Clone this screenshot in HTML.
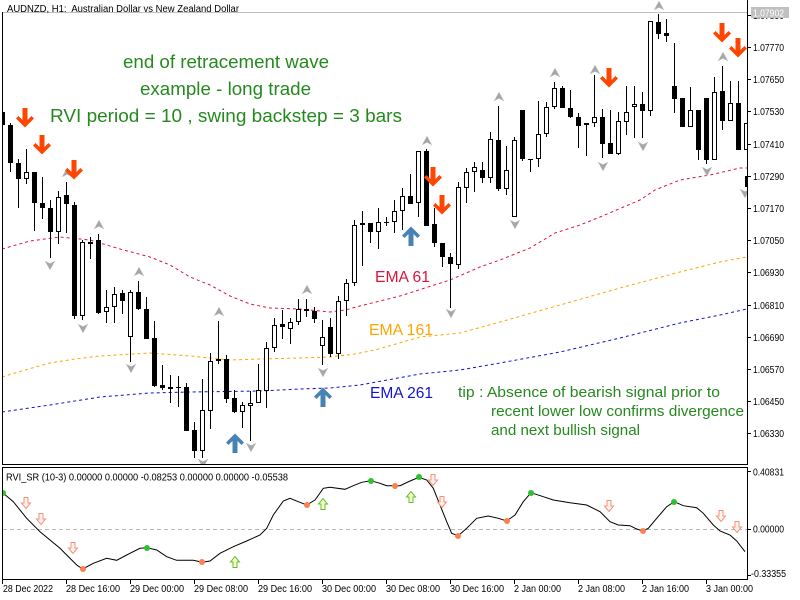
<!DOCTYPE html>
<html><head><meta charset="utf-8"><style>
html,body{margin:0;padding:0;background:#fff;}
svg{display:block;font-family:"Liberation Sans",Arial,sans-serif;}
</style></head><body>
<svg width="800" height="600" viewBox="0 0 800 600" xmlns="http://www.w3.org/2000/svg">
<rect width="800" height="600" fill="#fff"/>
<defs><clipPath id="cm"><rect x="3" y="0" width="744" height="464"/></clipPath>
<clipPath id="ci"><rect x="3" y="468" width="744" height="111"/></clipPath></defs>

<!-- top gray line -->
<line x1="2" y1="12.5" x2="747" y2="12.5" stroke="#c0c0c0" stroke-width="1"/>
<text x="7" y="12" font-size="10" textLength="232" lengthAdjust="spacingAndGlyphs" fill="#000">AUDNZD, H1:&#160; Australian Dollar vs New Zealand Dollar</text>

<g clip-path="url(#cm)">
<!-- EMAs -->
<polyline fill="none" stroke="#DC143C" stroke-width="1" stroke-dasharray="3,3" points="2,249 30,241 60,237 90,240 120,249 150,257 170,265 190,277 210,285 230,296 250,304 270,308 300,309 330,312 345,310 360,306 400,296 450,280 480,267 500,260 530,248 555,233 580,225 600,217 640,200 655,190 680,180 710,175 740,168 747,168"/>
<polyline fill="none" stroke="#FFA500" stroke-width="1" stroke-dasharray="3,3" points="2,377 25,370 50,363 75,359 100,356 150,353 190,356 230,360 260,359 300,358 330,357 355,354 375,350 420,337 460,333 500,322 560,305 620,288 680,272 720,262 747,257"/>
<polyline fill="none" stroke="#1010D0" stroke-width="1" stroke-dasharray="3,3" points="2,412 50,405 100,397 150,393 190,392 260,391 300,389 330,388 360,385 420,374 460,370 500,363 560,352 620,338 680,323 720,315 747,309"/>

<!-- wicks -->
<path fill="none" stroke="#000" stroke-width="1" d="M2.5 110V127M10.5 123V172M18.5 159V208M26.5 149V184M34.5 172V231M42.5 177V219M50.5 200V258M58.5 191V244M66.5 182V233M74.5 202V319M82.5 240V320M90.5 237V259M98.5 234V314M106.5 290V323M114.5 287V323M122.5 290V314M130.5 290V362M138.5 281V310M146.5 297V339M154.5 321V387M162.5 365V390M170.5 375V403M178.5 376V407M186.5 383V431M194.5 422V458M202.5 379V458M210.5 353V429M218.5 321V364M226.5 355V403M234.5 390V413M242.5 402V428M250.5 391V441M258.5 364V403M266.5 342V408M274.5 318V352M282.5 310V339M290.5 318V344M298.5 299V325M306.5 299V317M314.5 307V323M322.5 320V365M330.5 318V357M338.5 296V359M346.5 279V316M354.5 220V286M362.5 211V266M370.5 223V243M378.5 208V249M386.5 217V226M394.5 200V233M402.5 188V230M410.5 174V204M418.5 151V217M426.5 149V226M434.5 208V247M442.5 243V267M450.5 253V308M458.5 182V269M466.5 168V203M474.5 162V192M482.5 162V183M490.5 132V183M498.5 106V191M506.5 146V195M514.5 137V217M522.5 110V161M530.5 159V172M538.5 101V167M546.5 102V137M554.5 82V109M562.5 86V108M570.5 90V118M578.5 113V148M586.5 123V156M594.5 75V127M602.5 109V158M610.5 110V154M618.5 112V155M626.5 86V135M634.5 86V138M642.5 92V138M650.5 21V116M658.5 14V39M666.5 19V42M674.5 43V113M682.5 98V127M690.5 87V127M698.5 110V160M706.5 98V164M714.5 77V160M722.5 66V130M730.5 81V121M738.5 81V150M746.5 123V150"/>

<!-- black bodies -->
<path fill="#000" d="M0 112h5V125h-5ZM8 125h5V163h-5ZM16 163h5V179h-5ZM32 172h5V203h-5ZM40 203h5V208h-5ZM48 208h5V232h-5ZM64 195h5V204h-5ZM72 205h5V316h-5ZM88 242h5V244h-5ZM96 240h5V313h-5ZM120 293h5V301h-5ZM136 292h5V309h-5ZM144 309h5V339h-5ZM152 338h5V386h-5ZM160 385h5V388h-5ZM168 387h5V389h-5ZM176 387h5V388h-5ZM184 387h5V431h-5ZM192 430h5V451h-5ZM216 359h5V361h-5ZM224 359h5V399h-5ZM232 398h5V412h-5ZM280 324h5V327h-5ZM312 311h5V319h-5ZM328 327h5V354h-5ZM368 223h5V232h-5ZM384 222h5V223h-5ZM408 196h5V204h-5ZM424 151h5V226h-5ZM432 224h5V243h-5ZM440 243h5V257h-5ZM448 257h5V264h-5ZM480 170h5V178h-5ZM496 140h5V189h-5ZM520 110h5V159h-5ZM528 159h5V160h-5ZM560 88h5V108h-5ZM568 108h5V117h-5ZM576 117h5V126h-5ZM600 117h5V144h-5ZM608 143h5V154h-5ZM640 104h5V111h-5ZM656 22h5V34h-5ZM664 33h5V36h-5ZM672 86h5V99h-5ZM680 98h5V127h-5ZM696 110h5V150h-5ZM704 98h5V160h-5ZM720 91h5V121h-5ZM736 103h5V150h-5Z"/>

<!-- white bodies -->
<g fill="#fff" stroke="#000" stroke-width="1">
<rect x="24.5" y="172.5" width="4" height="6"/>
<rect x="56.5" y="197.5" width="4" height="34"/>
<rect x="80.5" y="242.5" width="4" height="73"/>
<rect x="104.5" y="307.5" width="4" height="4"/>
<rect x="112.5" y="294.5" width="4" height="12"/>
<rect x="128.5" y="292.5" width="4" height="44"/>
<rect x="200.5" y="410.5" width="4" height="40"/>
<rect x="208.5" y="361.5" width="4" height="49"/>
<rect x="240.5" y="405.5" width="4" height="6"/>
<rect x="248.5" y="403.5" width="4" height="2"/>
<rect x="256.5" y="390.5" width="4" height="12"/>
<rect x="264.5" y="348.5" width="4" height="42"/>
<rect x="272.5" y="325.5" width="4" height="22"/>
<rect x="288.5" y="322.5" width="4" height="6"/>
<rect x="296.5" y="309.5" width="4" height="12"/>
<rect x="304.5" y="309.5" width="4" height="1"/>
<rect x="320.5" y="337.5" width="4" height="8"/>
<rect x="336.5" y="301.5" width="4" height="52"/>
<rect x="344.5" y="283.5" width="4" height="17"/>
<rect x="352.5" y="225.5" width="4" height="57"/>
<rect x="360.5" y="223.5" width="4" height="1"/>
<rect x="376.5" y="222.5" width="4" height="9"/>
<rect x="392.5" y="211.5" width="4" height="10"/>
<rect x="400.5" y="196.5" width="4" height="14"/>
<rect x="416.5" y="151.5" width="4" height="51"/>
<rect x="456.5" y="187.5" width="4" height="77"/>
<rect x="464.5" y="172.5" width="4" height="15"/>
<rect x="472.5" y="167.5" width="4" height="4"/>
<rect x="488.5" y="139.5" width="4" height="38"/>
<rect x="504.5" y="170.5" width="4" height="18"/>
<rect x="512.5" y="140.5" width="4" height="76"/>
<rect x="536.5" y="134.5" width="4" height="24"/>
<rect x="544.5" y="107.5" width="4" height="26"/>
<rect x="552.5" y="88.5" width="4" height="18"/>
<rect x="584.5" y="123.5" width="4" height="1"/>
<rect x="592.5" y="117.5" width="4" height="5"/>
<rect x="616.5" y="121.5" width="4" height="32"/>
<rect x="624.5" y="112.5" width="4" height="9"/>
<rect x="632.5" y="104.5" width="4" height="2"/>
<rect x="648.5" y="21.5" width="4" height="89"/>
<rect x="688.5" y="110.5" width="4" height="16"/>
<rect x="712.5" y="92.5" width="4" height="67"/>
<rect x="728.5" y="103.5" width="4" height="17"/>
<rect x="744.5" y="123.5" width="4" height="26"/>
</g>
<rect x="745" y="176" width="2" height="11" fill="#000"/>

<!-- gray fractal arrows up -->
<g fill="#a6a6a6" stroke="#d0d0d0" stroke-width="0.5">
<polygon transform="translate(67,173)" points="0,-5 5,4 0,1.5 -5,4"/>
<polygon transform="translate(99,225)" points="0,-5 5,4 0,1.5 -5,4"/>
<polygon transform="translate(139,272)" points="0,-5 5,4 0,1.5 -5,4"/>
<polygon transform="translate(219,312)" points="0,-5 5,4 0,1.5 -5,4"/>
<polygon transform="translate(307,290)" points="0,-5 5,4 0,1.5 -5,4"/>
<polygon transform="translate(427,141)" points="0,-5 5,4 0,1.5 -5,4"/>
<polygon transform="translate(499,97)" points="0,-5 5,4 0,1.5 -5,4"/>
<polygon transform="translate(555,73)" points="0,-5 5,4 0,1.5 -5,4"/>
<polygon transform="translate(595,70)" points="0,-5 5,4 0,1.5 -5,4"/>
<polygon transform="translate(659,6)" points="0,-5 5,4 0,1.5 -5,4"/>
<polygon transform="translate(723,57)" points="0,-5 5,4 0,1.5 -5,4"/>
<!-- down -->
<polygon transform="translate(50,265)" points="0,5 5,-4 0,-1.5 -5,-4"/>
<polygon transform="translate(83,328)" points="0,5 5,-4 0,-1.5 -5,-4"/>
<polygon transform="translate(131,368)" points="0,5 5,-4 0,-1.5 -5,-4"/>
<polygon transform="translate(203,463)" points="0,5 5,-4 0,-1.5 -5,-4"/>
<polygon transform="translate(251,447)" points="0,5 5,-4 0,-1.5 -5,-4"/>
<polygon transform="translate(323,372)" points="0,5 5,-4 0,-1.5 -5,-4"/>
<polygon transform="translate(451,313)" points="0,5 5,-4 0,-1.5 -5,-4"/>
<polygon transform="translate(515,224)" points="0,5 5,-4 0,-1.5 -5,-4"/>
<polygon transform="translate(603,166)" points="0,5 5,-4 0,-1.5 -5,-4"/>
<polygon transform="translate(643,146)" points="0,5 5,-4 0,-1.5 -5,-4"/>
<polygon transform="translate(707,171)" points="0,5 5,-4 0,-1.5 -5,-4"/>
<polygon transform="translate(745,193)" points="0,5 5,-4 0,-1.5 -5,-4"/>
</g>

<!-- red down arrows -->
<g fill="#FF4500">
<polygon transform="translate(25,118)" points="-2.5,-10 2.5,-10 2.5,2 6.5,-2 9,0.5 0,9.5 -9,0.5 -6.5,-2 -2.5,2"/>
<polygon transform="translate(42,145)" points="-2.5,-10 2.5,-10 2.5,2 6.5,-2 9,0.5 0,9.5 -9,0.5 -6.5,-2 -2.5,2"/>
<polygon transform="translate(74,170)" points="-2.5,-10 2.5,-10 2.5,2 6.5,-2 9,0.5 0,9.5 -9,0.5 -6.5,-2 -2.5,2"/>
<polygon transform="translate(433,177)" points="-2.5,-10 2.5,-10 2.5,2 6.5,-2 9,0.5 0,9.5 -9,0.5 -6.5,-2 -2.5,2"/>
<polygon transform="translate(442,205)" points="-2.5,-10 2.5,-10 2.5,2 6.5,-2 9,0.5 0,9.5 -9,0.5 -6.5,-2 -2.5,2"/>
<polygon transform="translate(609,78)" points="-2.5,-10 2.5,-10 2.5,2 6.5,-2 9,0.5 0,9.5 -9,0.5 -6.5,-2 -2.5,2"/>
<polygon transform="translate(722,33)" points="-2.5,-10 2.5,-10 2.5,2 6.5,-2 9,0.5 0,9.5 -9,0.5 -6.5,-2 -2.5,2"/>
<polygon transform="translate(738,48)" points="-2.5,-10 2.5,-10 2.5,2 6.5,-2 9,0.5 0,9.5 -9,0.5 -6.5,-2 -2.5,2"/>
</g>
<!-- blue up arrows -->
<g fill="#4682B4">
<polygon transform="translate(235,443)" points="-2.5,10 2.5,10 2.5,-2 6.5,2 9,-0.5 0,-9.5 -9,-0.5 -6.5,2 -2.5,-2"/>
<polygon transform="translate(323,397)" points="-2.5,10 2.5,10 2.5,-2 6.5,2 9,-0.5 0,-9.5 -9,-0.5 -6.5,2 -2.5,-2"/>
<polygon transform="translate(411,236)" points="-2.5,10 2.5,10 2.5,-2 6.5,2 9,-0.5 0,-9.5 -9,-0.5 -6.5,2 -2.5,-2"/>
</g>
</g>

<!-- annotation texts -->
<g fill="#25891f" font-size="18">
<text x="123" y="68" textLength="206" lengthAdjust="spacingAndGlyphs">end of retracement wave</text>
<text x="140" y="95" textLength="171" lengthAdjust="spacingAndGlyphs">example - long trade</text>
<text x="50" y="122" textLength="352" lengthAdjust="spacingAndGlyphs">RVI period = 10 , swing backstep = 3 bars</text>
</g>
<g font-size="16">
<text x="375" y="282" fill="#DC143C" textLength="55" lengthAdjust="spacingAndGlyphs">EMA 61</text>
<text x="369" y="335" fill="#FFA500" textLength="64" lengthAdjust="spacingAndGlyphs">EMA 161</text>
<text x="370" y="398" fill="#1414CC" textLength="63" lengthAdjust="spacingAndGlyphs">EMA 261</text>
</g>
<g fill="#25891f" font-size="14.5">
<text x="458" y="397" textLength="262" lengthAdjust="spacingAndGlyphs">tip : Absence of bearish signal prior to</text>
<text x="491" y="416" textLength="253" lengthAdjust="spacingAndGlyphs">recent lower low confirms divergence</text>
<text x="491" y="435" textLength="149" lengthAdjust="spacingAndGlyphs">and next bullish signal</text>
</g>

<!-- main borders -->
<line x1="2.5" y1="12" x2="2.5" y2="465" stroke="#000"/>
<line x1="747.5" y1="0" x2="747.5" y2="465" stroke="#000"/>
<line x1="2" y1="464.5" x2="748" y2="464.5" stroke="#000"/>

<!-- price axis -->
<g stroke="#000">
<path d="M747 15.5h4M747 47.5h4M747 79.5h4M747 111.5h4M747 144.5h4M747 176.5h4M747 208.5h4M747 240.5h4M747 272.5h4M747 305.5h4M747 337.5h4M747 369.5h4M747 401.5h4M747 433.5h4"/>
</g>
<g font-size="10" fill="#000">
<text x="753" y="51" textLength="31" lengthAdjust="spacingAndGlyphs">1.07770</text>
<text x="753" y="83" textLength="31" lengthAdjust="spacingAndGlyphs">1.07650</text>
<text x="753" y="115" textLength="31" lengthAdjust="spacingAndGlyphs">1.07530</text>
<text x="753" y="148" textLength="31" lengthAdjust="spacingAndGlyphs">1.07410</text>
<text x="753" y="180" textLength="31" lengthAdjust="spacingAndGlyphs">1.07290</text>
<text x="753" y="212" textLength="31" lengthAdjust="spacingAndGlyphs">1.07170</text>
<text x="753" y="244" textLength="31" lengthAdjust="spacingAndGlyphs">1.07050</text>
<text x="753" y="276" textLength="31" lengthAdjust="spacingAndGlyphs">1.06930</text>
<text x="753" y="309" textLength="31" lengthAdjust="spacingAndGlyphs">1.06810</text>
<text x="753" y="341" textLength="31" lengthAdjust="spacingAndGlyphs">1.06690</text>
<text x="753" y="373" textLength="31" lengthAdjust="spacingAndGlyphs">1.06570</text>
<text x="753" y="405" textLength="31" lengthAdjust="spacingAndGlyphs">1.06450</text>
<text x="753" y="437" textLength="31" lengthAdjust="spacingAndGlyphs">1.06330</text>
<text x="753" y="19" textLength="31" lengthAdjust="spacingAndGlyphs">1.07890</text>
</g>
<rect x="751" y="7" width="38" height="11" fill="#c0c0c0"/>
<text x="753" y="16.5" font-size="10" fill="#fff" textLength="31" lengthAdjust="spacingAndGlyphs">1.07902</text>

<!-- indicator window -->
<rect x="2.5" y="467.5" width="745" height="112" fill="none" stroke="#000"/>
<line x1="3" y1="529.5" x2="747" y2="529.5" stroke="#b8b8b8" stroke-dasharray="4,3"/>
<text x="6" y="480.5" font-size="10" fill="#000" textLength="282" lengthAdjust="spacingAndGlyphs">RVI_SR (10-3) 0.00000 0.00000 -0.08253 0.00000 0.00000 -0.05538</text>
<g clip-path="url(#ci)">
<polyline fill="none" stroke="#000" stroke-width="1" points="2.7,492.7 13.3,501.7 26.7,518.3 40,531.7 60,548.3 66.7,555 76.7,565 82.7,569 93.3,563.3 106.7,558.3 116.7,560.3 126.7,555 140,548.3 146.7,547.7 156.7,550 166.7,556.7 176.7,560.3 193.3,560.3 202.3,562.3 210,561 220,553.3 233.3,546.7 246.7,541 260,535 266.7,528.3 273.3,515 283.3,501 290,498.3 298.3,501.7 306.7,505 315,500 323.3,488.3 330,487.3 345,489.3 353.3,485.7 361.7,482.3 370.7,480.7 380,483.3 386.7,485.7 395,485.7 400,485.7 410,481 419,477.3 426.7,480 433.3,488.3 440,505 446.7,521.7 451.7,533.3 458.3,535.7 466.7,528.3 476.7,518.3 488.3,516 498.3,518.3 506.7,521 515,515 523.3,501.7 531,492.7 543.3,496.7 553.3,500 570,502.7 586.7,505 600,511.7 610,521.7 618.3,525 630,525.7 636.7,529 642.7,531 648.3,528.3 656.7,518.3 666.7,506.7 674.3,501.7 683.3,505.7 696.7,507.7 703.3,513.3 713.3,525 720,531 730,535 736.7,541 745,551.7"/>
<g fill="#2ec12e">
<circle cx="3" cy="493" r="3"/><circle cx="147" cy="548" r="3"/><circle cx="371" cy="481" r="3"/><circle cx="419" cy="477" r="3"/><circle cx="531" cy="493" r="3"/><circle cx="674" cy="502" r="3"/>
</g>
<g fill="#FF7F50">
<circle cx="83" cy="569" r="3"/><circle cx="202" cy="562" r="3"/><circle cx="307" cy="505" r="3"/><circle cx="395" cy="486" r="3"/><circle cx="458" cy="536" r="3"/><circle cx="507" cy="521" r="3"/><circle cx="643" cy="531" r="3"/>
</g>
<g fill="#fff4f0" stroke="#F5907A" stroke-width="1">
<polygon transform="translate(26,503)" points="-2,-5.5 2,-5.5 2,0 4.5,0 0,5.5 -4.5,0 -2,0"/>
<polygon transform="translate(41,519)" points="-2,-5.5 2,-5.5 2,0 4.5,0 0,5.5 -4.5,0 -2,0"/>
<polygon transform="translate(73,548)" points="-2,-5.5 2,-5.5 2,0 4.5,0 0,5.5 -4.5,0 -2,0"/>
<polygon transform="translate(433,480)" points="-2,-5.5 2,-5.5 2,0 4.5,0 0,5.5 -4.5,0 -2,0"/>
<polygon transform="translate(442,502)" points="-2,-5.5 2,-5.5 2,0 4.5,0 0,5.5 -4.5,0 -2,0"/>
<polygon transform="translate(609,506)" points="-2,-5.5 2,-5.5 2,0 4.5,0 0,5.5 -4.5,0 -2,0"/>
<polygon transform="translate(721,516)" points="-2,-5.5 2,-5.5 2,0 4.5,0 0,5.5 -4.5,0 -2,0"/>
<polygon transform="translate(737,527)" points="-2,-5.5 2,-5.5 2,0 4.5,0 0,5.5 -4.5,0 -2,0"/>
</g>
<g fill="#ffffd0" stroke="#5cc02c" stroke-width="1">
<polygon transform="translate(235,562)" points="-2,5.5 2,5.5 2,0 4.5,0 0,-5.5 -4.5,0 -2,0"/>
<polygon transform="translate(323,504)" points="-2,5.5 2,5.5 2,0 4.5,0 0,-5.5 -4.5,0 -2,0"/>
<polygon transform="translate(411,497)" points="-2,5.5 2,5.5 2,0 4.5,0 0,-5.5 -4.5,0 -2,0"/>
</g>
</g>
<path stroke="#000" d="M747 471.5h4M747 529.5h4M747 575.5h4"/>
<g font-size="10" fill="#000">
<text x="753" y="475.5" textLength="31" lengthAdjust="spacingAndGlyphs">0.40831</text>
<text x="753" y="532.5" textLength="31" lengthAdjust="spacingAndGlyphs">0.00000</text>
<text x="751" y="577" textLength="35" lengthAdjust="spacingAndGlyphs">-0.33355</text>
</g>

<!-- time axis -->
<path stroke="#000" d="M2.5 579v5M66.5 579v5M130.5 579v5M194.5 579v5M258.5 579v5M322.5 579v5M386.5 579v5M450.5 579v5M514.5 579v5M578.5 579v5M642.5 579v5M706.5 579v5"/>
<g font-size="10" fill="#000">
<text x="3" y="592" textLength="50" lengthAdjust="spacingAndGlyphs">28 Dec 2022</text>
<text x="66" y="592" textLength="54" lengthAdjust="spacingAndGlyphs">28 Dec 16:00</text>
<text x="130" y="592" textLength="54" lengthAdjust="spacingAndGlyphs">29 Dec 00:00</text>
<text x="194" y="592" textLength="54" lengthAdjust="spacingAndGlyphs">29 Dec 08:00</text>
<text x="258" y="592" textLength="54" lengthAdjust="spacingAndGlyphs">29 Dec 16:00</text>
<text x="322" y="592" textLength="54" lengthAdjust="spacingAndGlyphs">30 Dec 00:00</text>
<text x="386" y="592" textLength="54" lengthAdjust="spacingAndGlyphs">30 Dec 08:00</text>
<text x="450" y="592" textLength="54" lengthAdjust="spacingAndGlyphs">30 Dec 16:00</text>
<text x="514" y="592" textLength="47" lengthAdjust="spacingAndGlyphs">2 Jan 00:00</text>
<text x="578" y="592" textLength="47" lengthAdjust="spacingAndGlyphs">2 Jan 08:00</text>
<text x="642" y="592" textLength="47" lengthAdjust="spacingAndGlyphs">2 Jan 16:00</text>
<text x="706" y="592" textLength="47" lengthAdjust="spacingAndGlyphs">3 Jan 00:00</text>
</g>
</svg>
</body></html>
